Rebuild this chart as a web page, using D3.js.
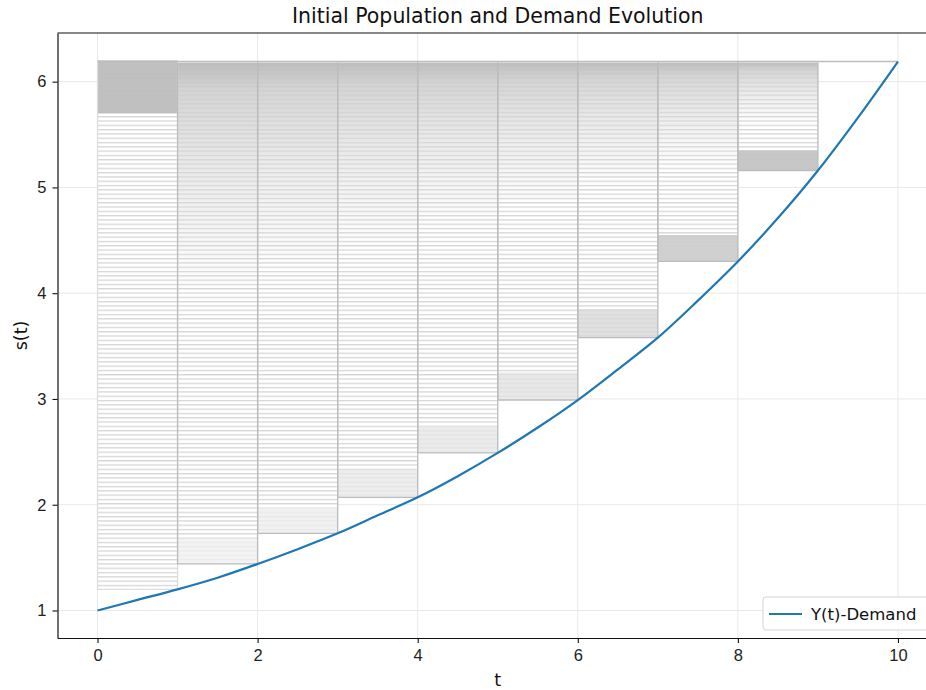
<!DOCTYPE html>
<html>
<head>
<meta charset="utf-8">
<script src="https://cdn.jsdelivr.net/npm/d3@7"></script>
<style>
  body { margin: 0; background: #fff; }
  svg { font-family: "DejaVu Sans", sans-serif; display: block; }
  .tick text { font-size: 16.5px; fill: #222; }
</style>
</head>
<body>
<div id="chart"></div>
<script>
// demand curve Y(t)
const tDemand = [0, 0.5, 1, 1.5, 2, 2.5, 3, 3.5, 4, 4.5, 5, 5.5, 6, 6.5, 7, 7.5, 8, 8.5, 9, 9.5, 10];
const yDemand = [1.00, 1.10, 1.20, 1.31, 1.44, 1.58, 1.73, 1.90, 2.07, 2.27, 2.49, 2.73, 2.99, 3.28, 3.58, 3.93, 4.30, 4.71, 5.16, 5.66, 6.19];

// population cells, one per time step
const cellStart = [0, 1, 2, 3, 4, 5, 6, 7, 8];
const cellBottom = [1.20, 1.44, 1.73, 2.07, 2.49, 2.99, 3.58, 4.30, 5.16];
const cellTop = [6.20, 6.18, 6.18, 6.18, 6.18, 6.18, 6.18, 6.18, 6.18];
// dense bands of the population
const bandLo = [5.70, 1.44, 1.73, 2.07, 2.49, 2.99, 3.58, 4.30, 5.16];
const bandHi = [6.20, 1.68, 1.98, 2.33, 2.75, 3.25, 3.85, 4.55, 5.35];
// how far the darker top fade reaches down (s units)
const fadeDepth = [0, 2.2, 2.0, 1.8, 1.6, 1.4, 1.2, 1.0, 0.6];
const topLine = { t0: 9, t1: 10, s: 6.19 };

const xTicks = [0, 2, 4, 6, 8, 10];
const yTicks = [1, 2, 3, 4, 5, 6];

const W = 926, H = 690;
const margin = { top: 33, right: -12, bottom: 52, left: 57.5 };

const svg = d3.select("#chart").append("svg")
  .attr("width", W).attr("height", H);

const x = d3.scaleLinear().domain([-0.5, 10.5]).range([margin.left, W - margin.right]);
const y = d3.scaleLinear().domain([0.74, 6.46]).range([H - margin.bottom, margin.top]);

const defs = svg.append("defs");
const hatch = defs.append("pattern")
  .attr("id", "hatch")
  .attr("patternUnits", "userSpaceOnUse")
  .attr("width", 10).attr("height", 4.3);
hatch.append("rect").attr("width", 10).attr("height", 4.3).attr("fill", "#ffffff");
hatch.append("rect").attr("y", 0).attr("width", 10).attr("height", 1.3).attr("fill", "#d6d6d6");

const grad = defs.append("linearGradient")
  .attr("id", "fade").attr("x1", 0).attr("x2", 0).attr("y1", 0).attr("y2", 1);
grad.append("stop").attr("offset", "0%").attr("stop-color", "#bababa").attr("stop-opacity", 0.95);
grad.append("stop").attr("offset", "12%").attr("stop-color", "#cccccc").attr("stop-opacity", 0.85);
grad.append("stop").attr("offset", "45%").attr("stop-color", "#d8d8d8").attr("stop-opacity", 0.55);
grad.append("stop").attr("offset", "100%").attr("stop-color", "#e0e0e0").attr("stop-opacity", 0);

// grid
svg.append("g").selectAll("line").data(xTicks).join("line")
  .attr("x1", d => x(d)).attr("x2", d => x(d))
  .attr("y1", y.range()[0]).attr("y2", y.range()[1])
  .attr("stroke", "#e8e8e8").attr("stroke-width", 1);
svg.append("g").selectAll("line").data(yTicks).join("line")
  .attr("x1", x.range()[0]).attr("x2", x.range()[1])
  .attr("y1", d => y(d)).attr("y2", d => y(d))
  .attr("stroke", "#e8e8e8").attr("stroke-width", 1);

const cells = cellStart.map((t, i) => ({
  t, lo: cellBottom[i], hi: cellTop[i], bLo: bandLo[i], bHi: bandHi[i], fade: fadeDepth[i], i
}));

const bandShade = d3.scaleLinear().domain([1, 5, 8]).range(["#f0f0f0", "#e2e2e2", "#c4c4c4"]);

const gc = svg.append("g");
// hatched body
gc.selectAll("rect.body").data(cells).join("rect")
  .attr("class", "body")
  .attr("x", d => x(d.t)).attr("width", d => x(d.t + 1) - x(d.t))
  .attr("y", d => y(d.hi)).attr("height", d => y(d.lo) - y(d.hi))
  .attr("fill", "url(#hatch)");
// darker fade at the top
gc.selectAll("rect.fade").data(cells.filter(d => d.fade > 0)).join("rect")
  .attr("class", "fade")
  .attr("x", d => x(d.t)).attr("width", d => x(d.t + 1) - x(d.t))
  .attr("y", d => y(d.hi)).attr("height", d => y(d.hi - d.fade) - y(d.hi))
  .attr("fill", "url(#fade)");
// dense band
gc.selectAll("rect.band").data(cells).join("rect")
  .attr("class", "band")
  .attr("x", d => x(d.t)).attr("width", d => x(d.t + 1) - x(d.t))
  .attr("y", d => y(d.bHi)).attr("height", d => y(d.bLo) - y(d.bHi))
  .attr("fill", d => d.i === 0 ? "#bdbdbd" : bandShade(d.i))
  .attr("fill-opacity", d => d.i === 0 || d.i > 6 ? 0.95 : 0.8);
// outlines
gc.selectAll("path.edge").data(cells).join("path")
  .attr("class", "edge")
  .attr("d", d => `M${x(d.t)},${y(d.hi)}V${y(d.lo)}H${x(d.t + 1)}V${y(d.hi)}`)
  .attr("fill", "none")
  .attr("stroke", d => d.i === 0 ? "#dddddd" : "#bcbcbc")
  .attr("stroke-width", 1.3);
gc.append("line")
  .attr("x1", x(0)).attr("x2", x(topLine.t1))
  .attr("y1", y(topLine.s)).attr("y2", y(topLine.s))
  .attr("stroke", "#bdbdbd").attr("stroke-width", 1.5);

// demand curve
svg.append("path")
  .datum(tDemand.map((t, i) => [t, yDemand[i]]))
  .attr("fill", "none")
  .attr("stroke", "#1f77b4")
  .attr("stroke-width", 2.2)
  .attr("d", d3.line().x(d => x(d[0])).y(d => y(d[1])).curve(d3.curveCatmullRom));

// axes
const xAxis = svg.append("g")
  .attr("transform", `translate(0,${y.range()[0]})`)
  .call(d3.axisBottom(x).tickValues(xTicks).tickFormat(d3.format("d")).tickSize(5).tickPadding(6).tickSizeOuter(0));
const yAxis = svg.append("g")
  .attr("transform", `translate(${x.range()[0]},0)`)
  .call(d3.axisLeft(y).tickValues(yTicks).tickFormat(d3.format("d")).tickSize(5).tickPadding(6).tickSizeOuter(0));
[xAxis, yAxis].forEach(a => {
  a.select(".domain").attr("stroke", "#111").attr("stroke-width", 1.2);
  a.selectAll(".tick line").attr("stroke", "#111").attr("stroke-width", 1.1);
});
svg.append("line")
  .attr("x1", x.range()[0]).attr("x2", W)
  .attr("y1", y.range()[1]).attr("y2", y.range()[1])
  .attr("stroke", "#111").attr("stroke-width", 1.2);

// labels
svg.append("text")
  .attr("x", (x.range()[0] + x.range()[1]) / 2).attr("y", 23)
  .attr("text-anchor", "middle").attr("font-size", 20.5).attr("fill", "#111")
  .text("Initial Population and Demand Evolution");
svg.append("text")
  .attr("x", x(5)).attr("y", 686)
  .attr("text-anchor", "middle").attr("font-size", 17.5).attr("fill", "#111")
  .text("t");
svg.append("text")
  .attr("transform", `translate(27,${y(3.6)}) rotate(-90)`)
  .attr("text-anchor", "middle").attr("font-size", 17.5).attr("fill", "#111")
  .text("s(t)");

// legend
const lg = svg.append("g");
lg.append("rect")
  .attr("x", 763).attr("y", 597).attr("width", 180).attr("height", 33).attr("rx", 3)
  .attr("fill", "#fff").attr("fill-opacity", 0.85)
  .attr("stroke", "#d4d4d4").attr("stroke-width", 1);
lg.append("line")
  .attr("x1", 769).attr("x2", 802).attr("y1", 614).attr("y2", 614)
  .attr("stroke", "#1f77b4").attr("stroke-width", 2.2);
lg.append("text")
  .attr("x", 811).attr("y", 620).attr("font-size", 16.5).attr("fill", "#111")
  .text("Y(t)-Demand");
</script>
</body>
</html>
